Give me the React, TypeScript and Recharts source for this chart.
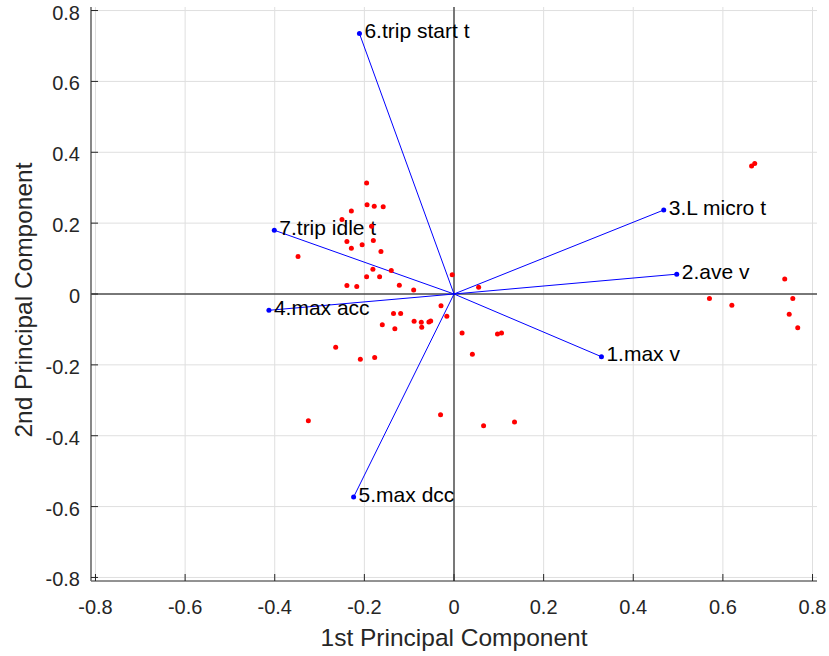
import React from 'react'
import {
  ScatterChart,
  Scatter,
  XAxis,
  YAxis,
  ReferenceLine,
} from 'recharts'

// axis ticks
const xTicks = [-0.8, -0.6, -0.4, -0.2, 0, 0.2, 0.4, 0.6, 0.8]
const yTicks = [-0.8, -0.6, -0.4, -0.2, 0, 0.2, 0.4, 0.6, 0.8]

// variable vectors (loadings)
const vectorLabels = [
  '1.max v',
  '2.ave v',
  '3.L micro t',
  '4.max acc',
  '5.max dcc',
  '6.trip start t',
  '7.trip idle t',
]
const vectorX = [0.329, 0.497, 0.468, -0.413, -0.224, -0.211, -0.401]
const vectorY = [-0.177, 0.056, 0.237, -0.046, -0.573, 0.735, 0.18]

// observation scores
const scoreX = [
  -0.195, -0.194, -0.178, -0.158, -0.229, -0.25, -0.184, -0.239, -0.18, -0.229,
  -0.205, -0.163, -0.348, -0.181, -0.14, -0.195, -0.166, -0.004, -0.239, -0.217,
  -0.122, -0.09, 0.055, -0.029, -0.016, -0.135, -0.119, -0.089, -0.073, -0.056,
  -0.052, -0.072, -0.16, -0.132, 0.018, 0.097, 0.106, 0.041, -0.264, -0.209,
  -0.177, -0.325, -0.03, 0.066, 0.135, 0.664, 0.671, 0.738, 0.756, 0.748,
  0.767, 0.57, 0.62,
]
const scoreY = [
  0.313, 0.252, 0.248, 0.246, 0.234, 0.21, 0.191, 0.148, 0.151, 0.129,
  0.139, 0.12, 0.106, 0.07, 0.066, 0.049, 0.049, 0.054, 0.024, 0.021,
  0.025, 0.011, 0.019, -0.033, -0.063, -0.055, -0.055, -0.077, -0.08, -0.079,
  -0.076, -0.094, -0.087, -0.098, -0.11, -0.113, -0.11, -0.17, -0.15, -0.184,
  -0.179, -0.358, -0.341, -0.372, -0.361, 0.361, 0.368, 0.042, -0.013, -0.057,
  -0.095, -0.013, -0.032,
]

const FONT = '"Liberation Sans", Arial, Helvetica, sans-serif'
const AXIS_COLOR = '#262626'
const GRID_COLOR = '#dfdfdf'

const scores = scoreX.map((x, i) => ({ x, y: scoreY[i] }))
const vectors = vectorLabels.map((label, i) => [
  { x: 0, y: 0 },
  { x: vectorX[i], y: vectorY[i], label },
])

const fmt = (v: number) => (v === 0 ? '0' : v.toFixed(1))

const XTick = (props: any) => {
  const { x, y, payload } = props
  return (
    <g>
      <line x1={x} y1={y} x2={x} y2={y - 7} stroke={AXIS_COLOR} />
      <text
        x={x}
        y={y + 26}
        textAnchor="middle"
        dominantBaseline="central"
        fontSize={20}
        fontFamily={FONT}
        fill={AXIS_COLOR}
      >
        {fmt(payload.value)}
      </text>
    </g>
  )
}

const YTick = (props: any) => {
  const { x, y, payload } = props
  return (
    <g>
      <line x1={x} y1={y} x2={x + 7} y2={y} stroke={AXIS_COLOR} />
      <text
        x={x - 11}
        y={y + 2}
        textAnchor="end"
        dominantBaseline="central"
        fontSize={20}
        fontFamily={FONT}
        fill={AXIS_COLOR}
      >
        {fmt(payload.value)}
      </text>
    </g>
  )
}

const VectorEnd = (props: any) => {
  const { cx, cy, payload } = props
  if (!payload.label) return <g />
  return (
    <g>
      <circle cx={cx} cy={cy} r={2.5} fill="#0000ff" />
      <text
        x={cx + 5}
        y={cy - 3}
        dominantBaseline="central"
        fontSize={21}
        fontFamily={FONT}
        fill="#000000"
      >
        {payload.label}
      </text>
    </g>
  )
}

const ScoreDot = (props: any) => {
  const { cx, cy } = props
  return <circle cx={cx} cy={cy} r={2.5} fill="#ff0000" />
}

export default function App() {
  return (
    <div style={{ position: 'absolute', left: 0, top: 0, background: '#fff' }}>
      <ScatterChart
        width={829}
        height={656}
        margin={{ top: 7, right: 12, bottom: 35, left: 51 }}
      >
        <XAxis
          type="number"
          dataKey="x"
          domain={[-0.81, 0.81]}
          ticks={xTicks}
          height={40}
          tickSize={0}
          tickMargin={0}
          tickLine={false}
          tick={<XTick />}
          axisLine={{ stroke: AXIS_COLOR }}
          allowDataOverflow
          label={{
            content: ({ viewBox }: any) => (
              <text
                x={viewBox.x + viewBox.width / 2}
                y={viewBox.y + 65}
                textAnchor="middle"
                fontSize={24.5}
                fontFamily={FONT}
                fill={AXIS_COLOR}
              >
                1st Principal Component
              </text>
            ),
          }}
        />
        <YAxis
          type="number"
          dataKey="y"
          domain={[-0.81, 0.81]}
          ticks={yTicks}
          width={40}
          tickSize={0}
          tickMargin={0}
          tickLine={false}
          tick={<YTick />}
          axisLine={{ stroke: '#6a6a6a', strokeWidth: 1.6 }}
          allowDataOverflow
          label={{
            content: ({ viewBox }: any) => {
              const cx = viewBox.x + viewBox.width - 59
              const cy = viewBox.y + viewBox.height / 2 + 6
              return (
                <text
                  x={cx}
                  y={cy}
                  transform={`rotate(-90, ${cx}, ${cy})`}
                  textAnchor="middle"
                  fontSize={24.5}
                  fontFamily={FONT}
                  fill={AXIS_COLOR}
                >
                  2nd Principal Component
                </text>
              )
            },
          }}
        />
        {xTicks.map((t) => (
          <ReferenceLine key={`gx${t}`} x={t} stroke={GRID_COLOR} />
        ))}
        {yTicks.map((t) => (
          <ReferenceLine key={`gy${t}`} y={t} stroke={GRID_COLOR} />
        ))}
        <ReferenceLine x={0} stroke="#5a5a5a" strokeWidth={1.6} />
        <ReferenceLine y={0} stroke="#000000" strokeWidth={1} />
        {vectors.map((d, i) => (
          <Scatter
            key={vectorLabels[i]}
            data={d}
            line={{ stroke: '#0000ff', strokeWidth: 1 }}
            shape={<VectorEnd />}
            isAnimationActive={false}
          />
        ))}
        <Scatter data={scores} shape={<ScoreDot />} isAnimationActive={false} />
      </ScatterChart>
    </div>
  )
}
